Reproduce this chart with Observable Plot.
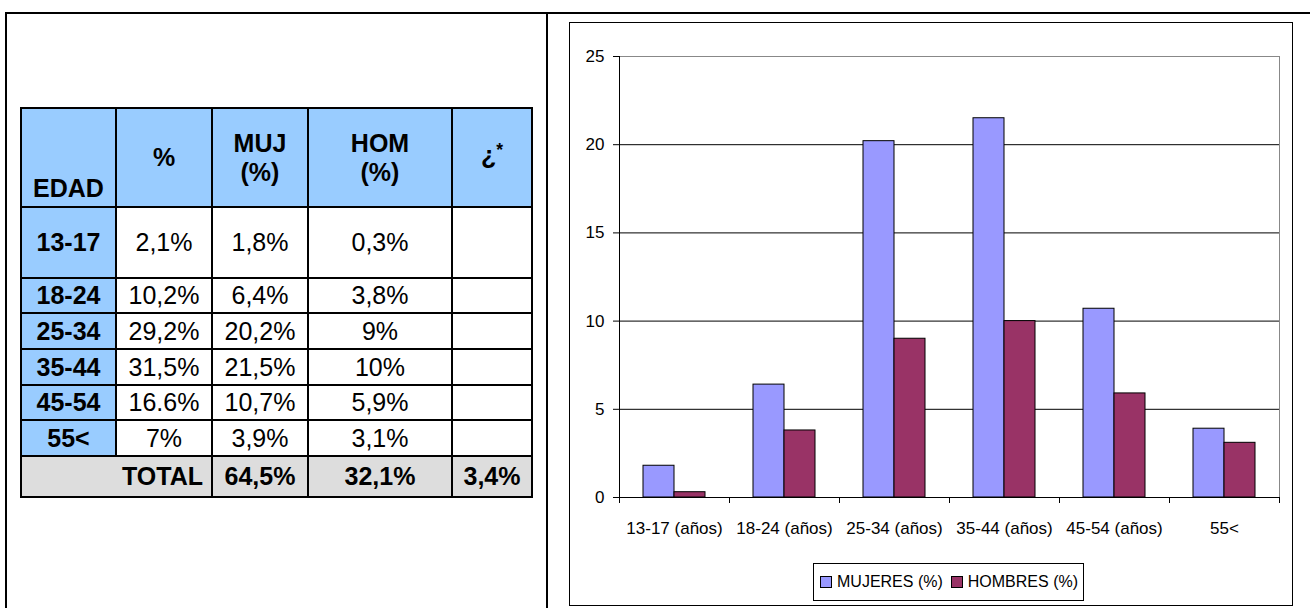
<!DOCTYPE html>
<html>
<head>
<meta charset="utf-8">
<script src="https://cdn.jsdelivr.net/npm/d3@7"></script>
<script src="https://cdn.jsdelivr.net/npm/@observablehq/plot@0.6"></script>
<style>
html, body { margin: 0; padding: 0; background: #fff; }
#page { position: relative; width: 1310px; height: 608px; overflow: hidden; font-family: 'Liberation Sans', Arial, sans-serif; color: #000; }
#outer { position: absolute; left: 5px; top: 12px; width: 1400px; height: 700px; border: 2px solid #000; box-sizing: border-box; }
#divider { position: absolute; left: 546px; top: 12px; width: 2px; height: 700px; background: #000; }
#tbl { position: absolute; left: 20px; top: 107px; border-collapse: collapse; table-layout: fixed; width: 513px; font-size: 25px; }
#tbl td, #tbl th { border: 2px solid #000; padding: 0; text-align: center; vertical-align: middle; line-height: 1.15; }
#tbl th { background: #99CCFF; font-weight: bold; }
#tbl th.edad { vertical-align: bottom; padding-bottom: 3px; }
#tbl td.lab { background: #99CCFF; font-weight: bold; }
#tbl tr.total td { background: #DDDDDD; font-weight: bold; }
#tbl tr.total td.tl { text-align: right; padding-right: 8px; }
#tbl sup { font-size: 0.7em; vertical-align: 0.45em; }
#chartbox { position: absolute; left: 569px; top: 22px; width: 724px; height: 584px; border: 1px solid #000; box-sizing: border-box; }
#chart { position: absolute; left: 570px; top: 23px; }
#legend { position: absolute; left: 813px; top: 563px; width: 271px; height: 38px; border: 1px solid #000; box-sizing: border-box; display: flex; align-items: center; font-size: 16px; padding-left: 6px; white-space: nowrap; overflow: hidden; }
#legend .item { display: flex; align-items: center; margin-right: 8px; white-space: nowrap; flex: none; }
#legend .sw { display: inline-block; width: 10px; height: 10px; border: 1px solid #000; margin-right: 5px; flex: none; }
</style>
</head>
<body>
<div id="page">
  <div id="outer"></div>
  <div id="divider"></div>
  <table id="tbl"></table>
  <div id="chartbox"></div>
  <div id="chart"></div>
  <div id="legend"></div>
</div>
<script>
// ---------- Table data ----------
const tableHeaders = [["EDAD"], ["%"], ["MUJ", "(%)"], ["HOM", "(%)"], ["¿", "*"]];
const edades = ["13-17", "18-24", "25-34", "35-44", "45-54", "55<"];
const pctTotal = ["2,1%", "10,2%", "29,2%", "31,5%", "16.6%", "7%"];
const pctMuj = ["1,8%", "6,4%", "20,2%", "21,5%", "10,7%", "3,9%"];
const pctHom = ["0,3%", "3,8%", "9%", "10%", "5,9%", "3,1%"];
const pctOtro = ["", "", "", "", "", ""];
const totalLabel = "TOTAL";
const totals = ["64,5%", "32,1%", "3,4%"];

// ---------- Chart data ----------
const categories = ["13-17 (años)", "18-24 (años)", "25-34 (años)", "35-44 (años)", "45-54 (años)", "55<"];
const mujeres = [1.8, 6.4, 20.2, 21.5, 10.7, 3.9];
const hombres = [0.3, 3.8, 9, 10, 5.9, 3.1];
const series = ["MUJERES (%)", "HOMBRES (%)"];
const seriesColors = ["#9999FF", "#993366"];
const yTicks = [0, 5, 10, 15, 20, 25];

// ---------- Build table ----------
const colWidths = [95, 96, 96, 144, 80];
const rowHeights = [99, 71, 35, 36, 36, 35, 36, 41];
const tbl = d3.select("#tbl");
const cg = tbl.append("colgroup");
colWidths.forEach(w => cg.append("col").style("width", w + "px"));
const hr = tbl.append("tr").style("height", rowHeights[0] + "px");
tableHeaders.forEach((lines, j) => {
  const th = hr.append("th");
  if (j === 0) th.attr("class", "edad");
  if (j === 4) { th.append("span").text(lines[0]); th.append("sup").text(lines[1]); th.style("vertical-align", "middle").style("padding-bottom", "6px"); }
  else lines.forEach((l, k) => { if (k) th.append("br"); th.append("span").text(l); });
});
edades.forEach((e, i) => {
  const tr = tbl.append("tr").style("height", rowHeights[i + 1] + "px");
  tr.append("td").attr("class", "lab").text(e);
  tr.append("td").text(pctTotal[i]);
  tr.append("td").text(pctMuj[i]);
  tr.append("td").text(pctHom[i]);
  tr.append("td").text(pctOtro[i]);
});
const trT = tbl.append("tr").attr("class", "total").style("height", rowHeights[7] + "px");
trT.append("td").attr("colspan", 2).attr("class", "tl").text(totalLabel);
totals.forEach(t => trT.append("td").text(t));

// ---------- Chart ----------
const data = categories.flatMap((cat, i) => [
  {cat, serie: series[0], value: mujeres[i]},
  {cat, serie: series[1], value: hombres[i]}
]);

function boundaryTicks(index, scales, values, dimensions) {
  const {width, marginLeft, marginRight} = dimensions;
  const y0 = scales.y(0);
  const g = d3.create("svg:g").attr("stroke", "#000").attr("stroke-width", 1);
  for (const x of [marginLeft, width - marginRight]) {
    g.append("line").attr("x1", x + 0.5).attr("x2", x + 0.5).attr("y1", y0).attr("y2", y0 + 6);
  }
  return g.node();
}

const chart = Plot.plot({
  width: 721,
  height: 530,
  marginLeft: 48,
  marginRight: 12,
  marginTop: 33,
  marginBottom: 56,
  style: {fontFamily: "'Liberation Sans', Arial, sans-serif", fontSize: "17px", background: "none", color: "#000", overflow: "visible"},
  fx: {domain: categories, padding: 0},
  x: {domain: series, paddingInner: 0, paddingOuter: 0.75, axis: null},
  y: {domain: [0, 25]},
  color: {domain: series, range: seriesColors},
  marks: [
    Plot.ruleY(yTicks.filter(t => t > 0 && t < 25), {stroke: "#000"}),
    Plot.ruleY([25], {stroke: "#888"}),
    Plot.frame({anchor: "right", facetAnchor: "right", stroke: "#888"}),
    Plot.barY(data, {fx: "cat", x: "serie", y: "value", fill: "serie", stroke: "#000", strokeWidth: 1}),
    Plot.ruleY([0], {stroke: "#000"}),
    Plot.frame({anchor: "left", facetAnchor: "left", stroke: "#000"}),
    boundaryTicks,
    Plot.axisY({ticks: yTicks, tickSize: 6, tickPadding: 9, label: null}),
    Plot.axisFx({anchor: "bottom", tickSize: 0, tickPadding: 24, label: null})
  ]
});
document.getElementById("chart").append(chart);

// ---------- Legend ----------
const colorScale = chart.scale("color");
const legend = d3.select("#legend");
colorScale.domain.forEach((s, i) => {
  const it = legend.append("span").attr("class", "item");
  it.append("span").attr("class", "sw").style("background", colorScale.range[i]);
  it.append("span").text(s);
});
</script>
</body>
</html>
